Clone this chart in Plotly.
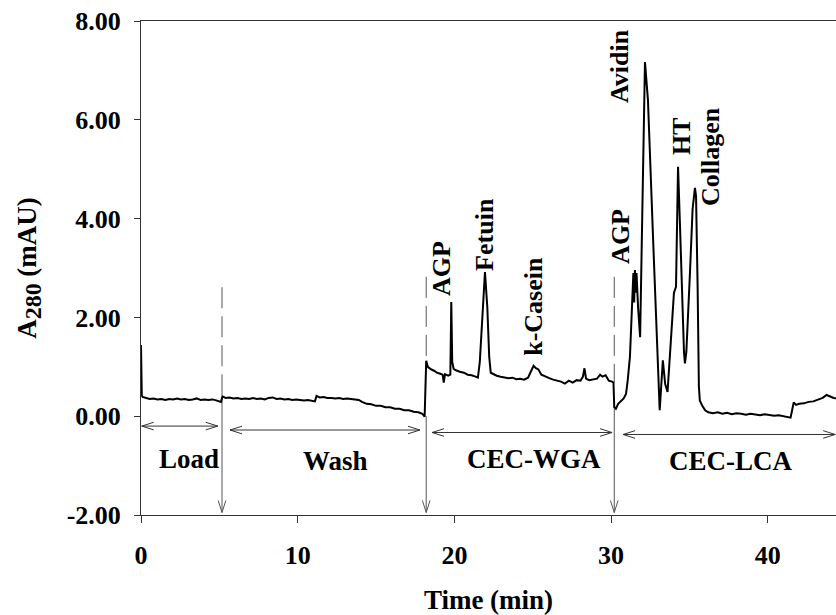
import plotly.graph_objects as go

# ---------------- data ----------------
load_t = [0.00, 0.02, 0.05, 0.10, 0.30, 0.55, 0.80, 1.05, 1.30, 1.55, 1.80, 2.05, 2.30,
          2.55, 2.80, 3.05, 3.30, 3.55, 3.80, 4.05, 4.30, 4.55, 4.80, 5.00, 5.10]
load_a = [1.44, 0.90, 0.42, 0.39, 0.37, 0.35, 0.36, 0.34, 0.35, 0.33, 0.35, 0.34, 0.36,
          0.34, 0.35, 0.33, 0.34, 0.36, 0.33, 0.34, 0.33, 0.34, 0.32, 0.31, 0.29]

wash_t = [5.20, 5.40, 5.65, 5.90, 6.15, 6.40, 6.65, 6.90, 7.15, 7.40, 7.65, 7.90, 8.15,
          8.40, 8.65, 8.90, 9.15, 9.40, 9.65, 9.90, 10.15, 10.40, 10.65, 10.90, 11.10,
          11.20, 11.40, 11.65, 11.90, 12.15, 12.40, 12.65, 12.90, 13.15, 13.40, 13.70,
          13.90, 14.10, 14.40, 14.70, 15.00, 15.30, 15.60, 15.90, 16.20, 16.50, 16.80,
          17.10, 17.40, 17.70, 17.95, 18.10]
wash_a = [0.40, 0.37, 0.38, 0.36, 0.37, 0.35, 0.36, 0.35, 0.37, 0.35, 0.36, 0.34, 0.37,
          0.38, 0.35, 0.36, 0.34, 0.35, 0.33, 0.34, 0.33, 0.32, 0.33, 0.31, 0.30,
          0.41, 0.38, 0.39, 0.37, 0.37, 0.36, 0.37, 0.35, 0.36, 0.35, 0.35,
          0.33, 0.29, 0.25, 0.24, 0.21, 0.21, 0.18, 0.18, 0.15, 0.15, 0.12,
          0.12, 0.09, 0.08, 0.05, -0.01]

wga_t = [18.20, 18.30, 18.50, 18.70, 18.90, 19.10, 19.25, 19.32, 19.40, 19.60, 19.74, 19.80,
         19.86, 19.95, 20.10, 20.35, 20.60, 20.85, 21.10, 21.35, 21.50, 21.62, 21.78, 21.95,
         22.10, 22.22, 22.32, 22.45, 22.70, 22.95, 23.20, 23.45, 23.70, 23.95, 24.20, 24.45,
         24.70, 24.90, 25.05, 25.20, 25.35, 25.55, 25.80, 26.05, 26.30, 26.55, 26.80, 27.05,
         27.30, 27.55, 27.80, 28.05, 28.20, 28.30, 28.40, 28.60, 28.85, 29.10, 29.30, 29.45,
         29.65, 29.85, 30.05, 30.15]
wga_a = [1.12, 1.00, 0.95, 0.92, 0.88, 0.86, 0.84, 0.68, 0.85, 0.82, 0.84, 2.31,
         1.10, 0.96, 0.93, 0.90, 0.88, 0.84, 0.83, 0.80, 0.78, 1.10, 2.00, 2.92,
         2.20, 1.20, 0.88, 0.86, 0.82, 0.80, 0.79, 0.77, 0.78, 0.75, 0.76, 0.74,
         0.78, 0.90, 1.02, 0.97, 0.95, 0.84, 0.80, 0.77, 0.74, 0.72, 0.70, 0.66,
         0.72, 0.68, 0.73, 0.72, 0.80, 0.97, 0.76, 0.73, 0.74, 0.76, 0.84, 0.80,
         0.83, 0.72, 0.70, 0.68]

lca_t = [30.20, 30.30, 30.45, 30.60, 30.80, 30.95, 31.05, 31.20, 31.32, 31.42, 31.47, 31.52,
         31.57, 31.62, 31.72, 31.85, 32.16, 32.35, 32.70, 33.00, 33.10, 33.30, 33.45, 33.60,
         33.80, 34.01, 34.14, 34.27, 34.40, 34.55, 34.65, 34.71, 34.80, 35.03, 35.20, 35.35,
         35.42, 35.52, 35.60, 35.66, 35.80, 36.00, 36.20, 36.50, 36.80, 37.10, 37.40, 37.70,
         38.00, 38.30, 38.60, 38.90, 39.20, 39.50, 39.80, 40.10, 40.40, 40.70, 41.00, 41.30,
         41.45, 41.55, 41.65, 41.80, 42.00, 42.30, 42.60, 42.90, 43.20, 43.50, 43.75, 44.00,
         44.20, 44.40]
lca_a = [0.18, 0.15, 0.25, 0.30, 0.36, 0.45, 0.70, 1.20, 2.10, 2.90, 2.30, 2.96,
         2.50, 2.90, 2.20, 1.60, 7.17, 6.40, 3.40, 0.80, 0.12, 1.13, 0.65, 0.49,
         1.40, 2.50, 2.62, 5.05, 3.80, 2.20, 1.30, 1.07, 1.30, 2.90, 4.20, 4.62,
         4.45, 2.60, 0.60, 0.32, 0.22, 0.12, 0.08, 0.06, 0.08, 0.05, 0.07, 0.04,
         0.06, 0.05, 0.03, 0.05, 0.04, 0.02, 0.04, 0.03, 0.01, 0.02, 0.00, -0.01,
         -0.03, 0.12, 0.28, 0.23, 0.25, 0.26, 0.29, 0.30, 0.33, 0.37, 0.43, 0.39,
         0.37, 0.36]

time_min = load_t + wash_t + wga_t + lca_t
a280 = load_a + wash_a + wga_a + lca_a

# phase boundaries (vertical markers)
phase_t = [5.17, 18.20, 30.20]
phase_dash_top = [2.61, 2.82, 2.82]
phase_dash_bottom = [0.38, 1.05, 0.68]
phase_solid_top = [0.38, 0.00, 0.15]
phase_tip = -1.95

# phase spans (double arrows) and labels
span_names = ["Load", "Wash", "CEC-WGA", "CEC-LCA"]
span_start = [0.05, 5.68, 18.57, 30.76]
span_end = [4.90, 17.80, 30.06, 44.30]
span_level = [-0.20, -0.28, -0.33, -0.37]
span_label_t = [3.06, 12.38, 25.08, 37.65]
span_label_a = [-0.87, -0.91, -0.87, -0.91]

# peak labels
peak_names = ["AGP", "Fetuin", "k-Casein", "AGP", "Avidin", "HT", "Collagen"]
peak_label_t = [19.14, 21.95, 25.00, 30.63, 30.57, 34.46, 36.38]
peak_label_a = [3.00, 3.69, 2.23, 3.63, 7.09, 5.67, 5.25]

x_ticks = [0, 10, 20, 30, 40]
y_ticks = [-2, 0, 2, 4, 6, 8]
y_tick_text = ["-2.00", "0.00", "2.00", "4.00", "6.00", "8.00"]

# ---------------- layout geometry ----------------
W, H = 836, 615
M = dict(l=141, r=0, t=21, b=100)
X_RANGE = [0, 44.35]
Y_RANGE = [-2, 8]
ux = (X_RANGE[1] - X_RANGE[0]) / (W - M["l"] - M["r"])   # data units per pixel
uy = (Y_RANGE[1] - Y_RANGE[0]) / (H - M["t"] - M["b"])
HEAD_L, HEAD_W = 12, 3.8

FONT = "Liberation Serif, Times New Roman, serif"
LINE_COL = "#333333"
BOLD26 = dict(family=FONT, size=26, color="black", weight="bold")
BOLD27 = dict(family=FONT, size=27, color="black", weight="bold")

fig = go.Figure()
fig.add_trace(go.Scatter(x=time_min, y=a280, mode="lines",
                         line=dict(color="black", width=2), hoverinfo="skip",
                         showlegend=False))

shapes = []


def seg(x0, y0, x1, y1, dash="solid", color=LINE_COL, width=1):
    shapes.append(dict(type="line", xref="x", yref="y", x0=x0, y0=y0, x1=x1, y1=y1,
                       line=dict(color=color, width=width, dash=dash), layer="below"))


for t, dt, db, st in zip(phase_t, phase_dash_top, phase_dash_bottom, phase_solid_top):
    seg(t, dt, t, db, dash="21px,8px", color="#555555")
    seg(t, st, t, phase_tip, color="#555555")
    seg(t - HEAD_W * ux, phase_tip + HEAD_L * uy, t, phase_tip, color="#555555")
    seg(t + HEAD_W * ux, phase_tip + HEAD_L * uy, t, phase_tip, color="#555555")

for s, e, lv in zip(span_start, span_end, span_level):
    seg(s, lv, e, lv)
    seg(s + HEAD_L * ux, lv + HEAD_W * uy, s, lv)
    seg(s + HEAD_L * ux, lv - HEAD_W * uy, s, lv)
    seg(e - HEAD_L * ux, lv + HEAD_W * uy, e, lv)
    seg(e - HEAD_L * ux, lv - HEAD_W * uy, e, lv)

annotations = []
for name, t, a in zip(span_names, span_label_t, span_label_a):
    annotations.append(dict(x=t, y=a, xref="x", yref="y", text=name, showarrow=False,
                            xanchor="center", yanchor="middle", font=BOLD27))
for name, t, a in zip(peak_names, peak_label_t, peak_label_a):
    annotations.append(dict(x=t, y=a, xref="x", yref="y", text=name, showarrow=False,
                            textangle=-90, xanchor="center", yanchor="middle",
                            font=BOLD26))

fig.update_layout(
    width=W, height=H, margin=M,
    paper_bgcolor="white", plot_bgcolor="white",
    shapes=shapes, annotations=annotations,
    font=BOLD26,
    xaxis=dict(range=X_RANGE, tickvals=x_ticks, ticks="outside", ticklen=7, tickwidth=1,
               tickcolor=LINE_COL, showline=True, linecolor=LINE_COL, linewidth=1,
               mirror=True, showgrid=False, zeroline=False, ticklabelstandoff=10,
               tickfont=BOLD26,
               title=dict(text="Time (min)", standoff=26, font=BOLD27)),
    yaxis=dict(range=Y_RANGE, tickvals=y_ticks, ticktext=y_tick_text, ticks="outside",
               ticklen=6, tickwidth=1, tickcolor=LINE_COL, showline=True,
               linecolor=LINE_COL, linewidth=1, showgrid=False, zeroline=False,
               ticklabelstandoff=8, tickfont=BOLD26,
               title=dict(text="A<sub><span style='font-size:24px'>280</span></sub> (mAU)",
                          standoff=22, font=BOLD27)),
)

fig.write_html("out.html")
